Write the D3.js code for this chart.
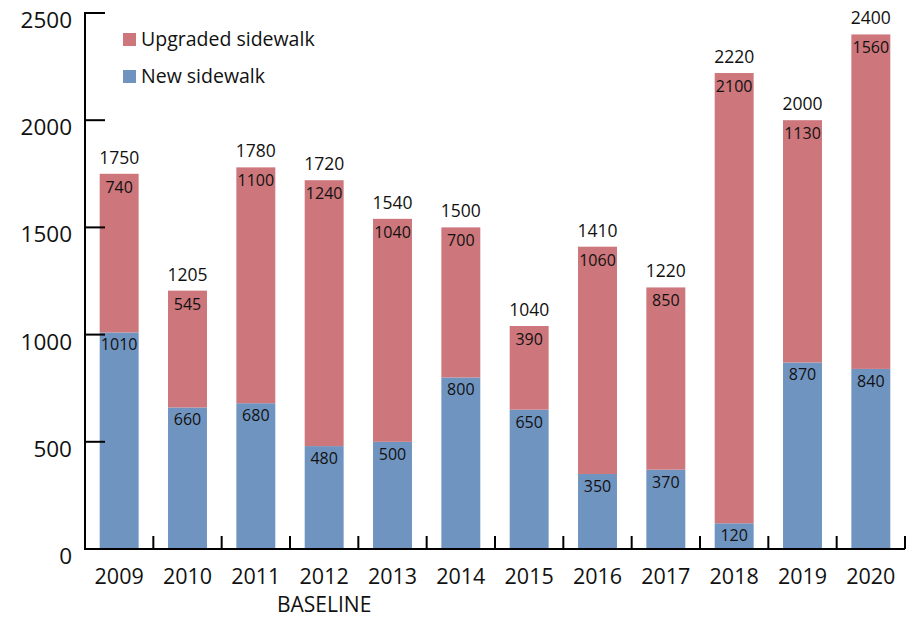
<!DOCTYPE html>
<html><head><meta charset="utf-8">
<script src="https://cdn.jsdelivr.net/npm/d3@7"></script>
<style>body{margin:0;background:#fff}svg{display:block}text{font-family:"Open Sans",sans-serif;fill:#111}</style>
</head><body><svg id="c" width="916" height="617"></svg>
<script>
const years = ["2009","2010","2011","2012","2013","2014","2015","2016","2017","2018","2019","2020"];
const newSidewalk = [1010,660,680,480,500,800,650,350,370,120,870,840];
const upgradedSidewalk = [740,545,1100,1240,1040,700,390,1060,850,2100,1130,1560];
const totals = [1750,1205,1780,1720,1540,1500,1040,1410,1220,2220,2000,2400];
const yTicks = [0,500,1000,1500,2000,2500];
const seriesNames = ["Upgraded sidewalk","New sidewalk"];
const colors = {up:"#cd767b", nw:"#7094c0"};

const svg = d3.select("#c");
const x = d3.scaleBand().domain(years).range([85,905]).paddingInner(0.43).paddingOuter(0.215);
const y = d3.scaleLinear().domain([0,2500]).range([549,13]);

const g = svg.append("g");
years.forEach((yr,i)=>{
  const x0 = x(yr), w = x.bandwidth();
  g.append("rect").attr("x",x0).attr("width",w).attr("y",y(newSidewalk[i])).attr("height",y(0)-y(newSidewalk[i])).attr("fill",colors.nw);
  g.append("rect").attr("x",x0).attr("width",w).attr("y",y(totals[i])).attr("height",y(newSidewalk[i])-y(totals[i])).attr("fill",colors.up);
  const cx = x0 + w/2;
  g.append("text").attr("x",cx).attr("y",y(newSidewalk[i])+18).attr("text-anchor","middle").style("font-size","16px").text(newSidewalk[i]);
  g.append("text").attr("x",cx).attr("y",y(totals[i])+19).attr("text-anchor","middle").style("font-size","16px").text(upgradedSidewalk[i]);
  g.append("text").attr("x",cx).attr("y",y(totals[i])-10).attr("text-anchor","middle").style("font-size","17.5px").text(totals[i]);
});

// y axis
svg.append("line").attr("x1",85).attr("x2",85).attr("y1",y(2500)).attr("y2",y(0)).attr("stroke","#000").attr("stroke-width",2);
yTicks.forEach(t=>{
  svg.append("line").attr("x1",84).attr("x2",105).attr("y1",y(t)).attr("y2",y(t)).attr("stroke","#000").attr("stroke-width",2);
  svg.append("text").attr("x",72).attr("y",y(t)+15).attr("text-anchor","end").style("font-size","22.5px").text(t);
});
// x axis
svg.append("line").attr("x1",84).attr("x2",905).attr("y1",y(0)).attr("y2",y(0)).attr("stroke","#000").attr("stroke-width",2);
const step = x.step();
years.forEach((yr,i)=>{
  const bx = 85 + step*(i+1);
  svg.append("line").attr("x1",bx).attr("x2",bx).attr("y1",y(0)).attr("y2",y(0)-13).attr("stroke","#000").attr("stroke-width",2);
  svg.append("text").attr("x",x(yr)+x.bandwidth()/2).attr("y",584).attr("text-anchor","middle").style("font-size","21.5px").text(yr);
});
svg.append("text").attr("x",x("2012")+x.bandwidth()/2).attr("y",612).attr("text-anchor","middle").style("font-size","21px").text("BASELINE");

// legend
const leg = [[seriesNames[0],colors.up,33],[seriesNames[1],colors.nw,70]];
leg.forEach(([n,c,yy])=>{
  svg.append("rect").attr("x",123).attr("y",yy).attr("width",13).attr("height",13).attr("fill",c);
  svg.append("text").attr("x",141).attr("y",yy+13).style("font-size","19.5px").text(n);
});
</script></body></html>
